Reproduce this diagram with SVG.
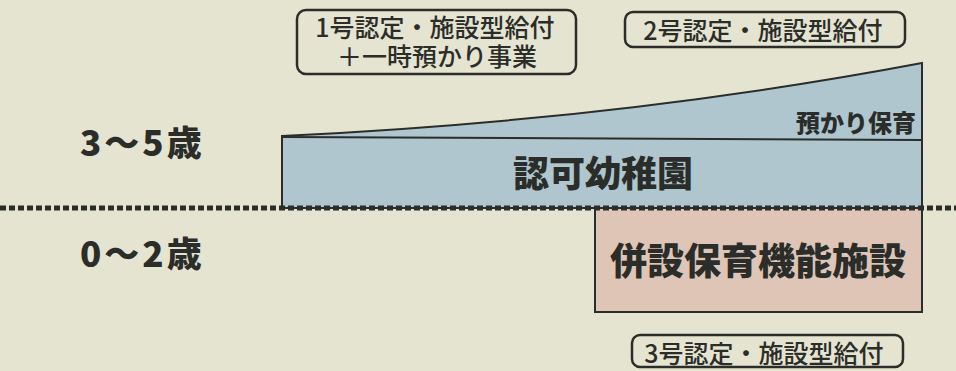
<svg xmlns="http://www.w3.org/2000/svg" width="956" height="371" viewBox="0 0 956 371">
<style>
.t{font-family:"Noto Sans CJK JP","Noto Sans",sans-serif;fill:#2b2d2a}
.b{font-weight:900}
.m{font-weight:500}
.lbl{fill:none;stroke:#2b2d2a;stroke-width:2.5}
.ln{stroke:#2b2d2a;stroke-width:2}
</style>
<rect width="956" height="371" fill="#e5e4d1"/>
<g id="kindergarten">
<path d="M282,208 L282,136 Q620,120 922,63 L922,208 Z" fill="#afc6ce" stroke="#2b2d2a" stroke-width="2"/>
<line x1="282" y1="137" x2="922" y2="140" class="ln"/>
<text x="916" y="132" class="t b" font-size="24" text-anchor="end">預かり保育</text>
<text x="603" y="187" class="t b" font-size="36" text-anchor="middle">認可幼稚園</text>
</g>
<g id="nursery">
<rect x="595" y="208" width="327" height="104" fill="#dfc5b5" stroke="#2b2d2a" stroke-width="2"/>
<text x="758" y="275" class="t b" font-size="37" text-anchor="middle">併設保育機能施設</text>
</g>
<g id="connectors">
<line x1="0" y1="208" x2="956" y2="208" stroke="#2b2d2a" stroke-width="5" stroke-dasharray="6 3"/>
</g>
<g id="age35"><text x="80" y="156" class="t b" font-size="35" letter-spacing="3">3〜5歳</text></g>
<g id="age02"><text x="80" y="267" class="t b" font-size="35" letter-spacing="3">0〜2歳</text></g>
<g id="label1">
<rect x="297" y="10" width="279" height="64" rx="9" class="lbl"/>
<text x="435" y="37" class="t m" font-size="25" text-anchor="middle">1号認定・施設型給付</text>
<text x="437" y="66" class="t m" font-size="25" text-anchor="middle">＋一時預かり事業</text>
</g>
<g id="label2">
<rect x="625" y="12" width="280" height="35" rx="8" class="lbl"/>
<text x="763" y="40" class="t m" font-size="25" text-anchor="middle">2号認定・施設型給付</text>
</g>
<g id="label3">
<rect x="632" y="335" width="271" height="32" rx="8" class="lbl"/>
<text x="764" y="363" class="t m" font-size="25" text-anchor="middle">3号認定・施設型給付</text>
</g>
</svg>
